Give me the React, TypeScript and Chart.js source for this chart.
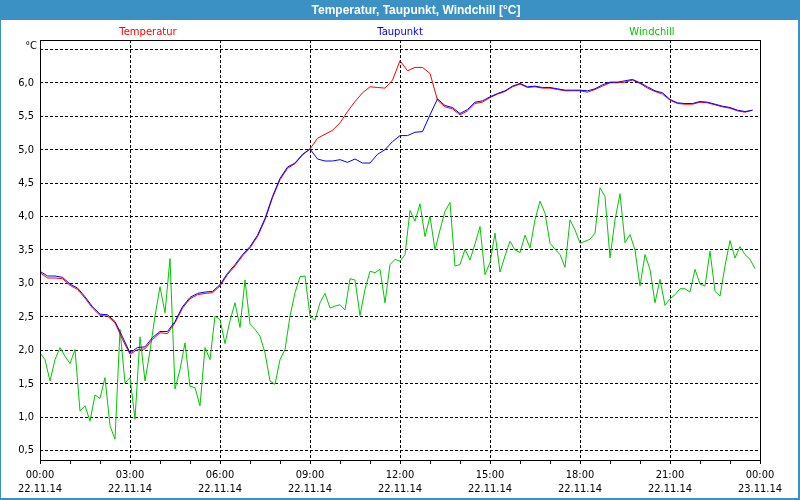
import { useEffect, useRef } from 'react';
import { Chart, registerables } from 'chart.js';

Chart.register(...registerables);

const TITLE = 'Temperatur, Taupunkt, Windchill [°C]';
const SERIES_NAMES = ['Temperatur', 'Taupunkt', 'Windchill'];
const SERIES_COLORS = ['#ff0000', '#0000ff', '#00c800'];
const FRAME_BLUE = '#3c91c4';

const X_TICK_TIMES = ['00:00', '03:00', '06:00', '09:00', '12:00', '15:00', '18:00', '21:00', '00:00'];
const X_TICK_DATES = ['22.11.14', '22.11.14', '22.11.14', '22.11.14', '22.11.14', '22.11.14', '22.11.14', '22.11.14', '23.11.14'];

// sampling interval in hours
const TEMP_STEP_H = 0.25; // 15 min
const WIND_STEP_H = 1 / 6; // 10 min

const temperatur = [
  3.16, 3.08, 3.08, 3.07, 2.97, 2.91, 2.78, 2.63, 2.52, 2.51, 2.41, 2.16,
  1.94, 2.01, 2.02, 2.16, 2.26, 2.25, 2.41, 2.63, 2.77, 2.83, 2.85, 2.86,
  2.96, 3.13, 3.26, 3.41, 3.53, 3.70, 3.95, 4.28, 4.55, 4.72, 4.79, 4.92,
  5.01, 5.17, 5.23, 5.29, 5.40, 5.57, 5.72, 5.85, 5.94, 5.93, 5.92, 6.04,
  6.33, 6.18, 6.23, 6.23, 6.14, 5.74, 5.64, 5.61, 5.52, 5.58, 5.69, 5.71,
  5.78, 5.83, 5.87, 5.94, 5.98, 5.93, 5.94, 5.92, 5.92, 5.90, 5.88, 5.88,
  5.88, 5.86, 5.90, 5.95, 6.00, 6.00, 6.01, 6.04, 5.99, 5.92, 5.87, 5.83,
  5.74, 5.69, 5.68, 5.68, 5.71, 5.70, 5.67, 5.64, 5.62, 5.58, 5.56, 5.59,
];

const taupunkt = [
  3.18, 3.11, 3.11, 3.09, 2.99, 2.93, 2.80, 2.65, 2.54, 2.53, 2.43, 2.20,
  1.96, 2.04, 2.05, 2.19, 2.28, 2.28, 2.43, 2.65, 2.79, 2.85, 2.87, 2.88,
  2.98, 3.15, 3.28, 3.43, 3.55, 3.72, 3.97, 4.30, 4.57, 4.74, 4.80, 4.93,
  5.01, 4.86, 4.83, 4.83, 4.85, 4.81, 4.86, 4.80, 4.80, 4.93, 5.00, 5.12,
  5.21, 5.21, 5.26, 5.27, 5.52, 5.76, 5.66, 5.63, 5.54, 5.60, 5.71, 5.73,
  5.79, 5.84, 5.88, 5.95, 5.99, 5.94, 5.95, 5.93, 5.93, 5.91, 5.89, 5.89,
  5.89, 5.88, 5.91, 5.97, 6.01, 6.01, 6.03, 6.05, 6.00, 5.94, 5.88, 5.85,
  5.75, 5.70, 5.69, 5.69, 5.72, 5.71, 5.68, 5.65, 5.63, 5.59, 5.57, 5.59,
];

const windchill = [
  1.96, 1.86, 1.54, 1.86, 2.04, 1.91, 1.80, 2.01, 1.09, 1.17, 0.94, 1.33,
  1.28, 1.59, 0.87, 0.67, 2.31, 1.51, 1.59, 0.97, 2.20, 1.54, 1.99, 2.51,
  2.95, 2.56, 3.37, 1.42, 1.71, 2.11, 1.46, 1.44, 1.17, 2.04, 1.86, 2.51,
  2.46, 2.10, 2.44, 2.71, 2.34, 3.05, 2.39, 2.31, 2.21, 1.96, 1.54, 1.49,
  1.86, 2.01, 2.51, 2.86, 3.10, 3.11, 2.51, 2.45, 2.71, 2.85, 2.63, 2.66,
  2.68, 2.60, 3.07, 3.05, 2.52, 2.91, 3.18, 3.16, 3.21, 2.71, 3.28, 3.36,
  3.33, 3.43, 4.09, 3.93, 4.19, 3.70, 4.00, 3.50, 3.80, 4.08, 4.21, 3.26,
  3.28, 3.51, 3.35, 3.59, 3.85, 3.13, 3.31, 3.75, 3.17, 3.41, 3.63, 3.50,
  3.46, 3.72, 3.53, 3.95, 4.23, 4.05, 3.60, 3.51, 3.43, 3.24, 3.95, 3.80,
  3.60, 3.63, 3.66, 3.75, 4.43, 4.30, 3.38, 3.95, 4.34, 3.61, 3.73, 3.50,
  2.96, 3.43, 3.21, 2.71, 3.06, 2.67, 2.77, 2.83, 2.92, 2.92, 2.87, 3.21,
  2.99, 2.96, 3.48, 2.88, 2.81, 3.26, 3.64, 3.38, 3.55, 3.43, 3.36, 3.22,
];

const X_MIN = 0;
const X_MAX = 24;
const Y_MIN = 0.358;
const Y_MAX = 6.64;

const LEGEND_FRACTIONS = [0.15, 0.5, 0.85];

const toPoints = (values: number[], step: number) =>
  values.map((v, i) => ({ x: i * step, y: v }));

const FONT = "'DejaVu Sans', Verdana, sans-serif";
const TICK_FONT = "'DejaVu Sans Condensed', 'DejaVu Sans', sans-serif";

const framePlugin = {
  id: 'framePlugin',
  beforeDraw(chart: any) {
    const { ctx, width, height } = chart;
    ctx.save();
    ctx.fillStyle = '#ffffff';
    ctx.fillRect(0, 0, width, height);
    ctx.restore();
  },
  afterDraw(chart: any) {
    const { ctx, chartArea: a, width, height } = chart;
    ctx.save();
    ctx.setLineDash([]);
    ctx.strokeStyle = '#000000';
    ctx.lineWidth = 1;
    ctx.strokeRect(
      Math.round(a.left) + 0.5,
      Math.round(a.top) + 0.5,
      Math.round(a.right - a.left),
      Math.round(a.bottom - a.top)
    );

    // window frame
    ctx.fillStyle = FRAME_BLUE;
    ctx.fillRect(0, 0, width, 20);
    ctx.fillRect(0, 0, 1, height);
    ctx.fillRect(width - 2, 0, 2, height);
    ctx.fillRect(0, height - 2, width, 2);

    ctx.fillStyle = '#ffffff';
    ctx.font = "bold 12px 'Liberation Sans Narrow', 'Liberation Sans', sans-serif";
    ctx.textAlign = 'center';
    ctx.textBaseline = 'middle';
    ctx.fillText(TITLE, width / 2 + 16, 11);

    // series labels
    ctx.font = `10px ${FONT}`;
    SERIES_NAMES.forEach((name, i) => {
      ctx.fillStyle = SERIES_COLORS[i];
      ctx.fillText(name, a.left + (a.right - a.left) * LEGEND_FRACTIONS[i], 32);
    });

    // unit
    ctx.fillStyle = '#000000';
    ctx.textAlign = 'right';
    ctx.font = `11px ${TICK_FONT}`;
    ctx.fillText('°C', a.left - 3, 46);
    ctx.restore();
  },
};

export default function App() {
  const canvasRef = useRef<HTMLCanvasElement | null>(null);

  useEffect(() => {
    if (!canvasRef.current) return;
    const chart = new Chart(canvasRef.current, {
      type: 'line',
      data: {
        datasets: [
          {
            label: SERIES_NAMES[1],
            data: toPoints(taupunkt, TEMP_STEP_H),
            borderColor: SERIES_COLORS[1],
            borderWidth: 1,
            pointRadius: 0,
            tension: 0,
          },
          {
            label: SERIES_NAMES[0],
            data: toPoints(temperatur, TEMP_STEP_H),
            borderColor: SERIES_COLORS[0],
            borderWidth: 1,
            pointRadius: 0,
            tension: 0,
          },
          {
            label: SERIES_NAMES[2],
            data: toPoints(windchill, WIND_STEP_H),
            borderColor: SERIES_COLORS[2],
            borderWidth: 1,
            pointRadius: 0,
            tension: 0,
          },
        ],
      },
      options: {
        responsive: false,
        animation: false,
        devicePixelRatio: 1,
        layout: { padding: { top: 40, right: 40, left: 0, bottom: 0 } },
        plugins: {
          legend: { display: false },
          title: { display: false },
          tooltip: { enabled: false },
        },
        scales: {
          x: {
            type: 'linear',
            min: X_MIN,
            max: X_MAX,
            afterFit: (scale: any) => {
              scale.height = 40;
            },
            ticks: {
              stepSize: 1,
              autoSkip: false,
              maxRotation: 0,
              minRotation: 0,
              padding: 4,
              color: '#000000',
              font: { family: TICK_FONT, size: 11, lineHeight: 1.3 },
              callback: (value: any) => {
                const v = Number(value);
                if (Math.abs(v % 3) < 1e-6) {
                  const idx = Math.round(v / 3);
                  return [X_TICK_TIMES[idx], X_TICK_DATES[idx]];
                }
                return '';
              },
            },
            grid: {
              color: (ctx: any) => {
                const v = ctx.tick ? ctx.tick.value : -1;
                return v % 3 === 0 && v > X_MIN && v < X_MAX ? '#000000' : 'rgba(0,0,0,0)';
              },
              tickColor: '#000000',
              tickLength: 4,
              lineWidth: 1,
            },
            border: { display: false, dash: [3, 2] },
          },
          y: {
            type: 'linear',
            min: Y_MIN,
            max: Y_MAX,
            afterFit: (scale: any) => {
              scale.width = 40;
            },
            ticks: {
              stepSize: 0.5,
              includeBounds: false,
              padding: 6,
              color: '#000000',
              font: { family: TICK_FONT, size: 11 },
              callback: (value: any) => {
                const v = Number(value);
                if (v > 6.4) return '';
                return v.toFixed(1).replace('.', ',');
              },
            },
            grid: {
              color: '#000000',
              drawTicks: false,
              lineWidth: 1,
            },
            border: { display: false, dash: [3, 2] },
          },
        },
      },
      plugins: [framePlugin],
    } as any);
    return () => chart.destroy();
  }, []);

  return (
    <div style={{ position: 'absolute', left: 0, top: 0, width: 800, height: 500 }}>
      <canvas ref={canvasRef} width={800} height={500} style={{ display: 'block' }} />
    </div>
  );
}
